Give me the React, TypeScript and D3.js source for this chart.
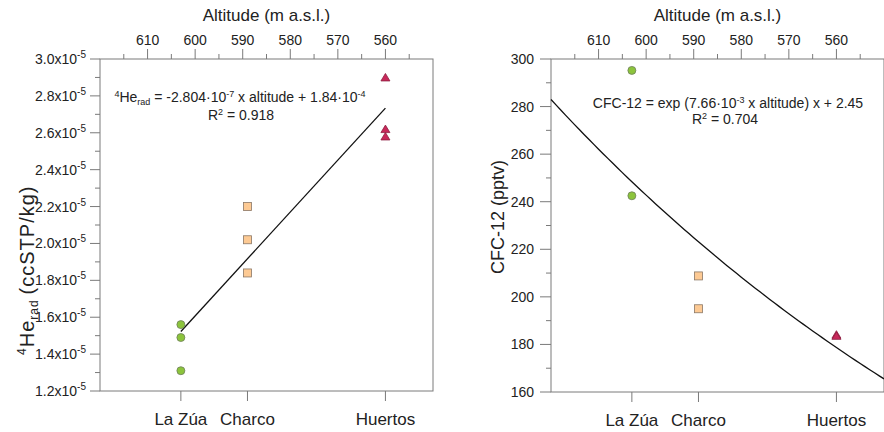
import { line, mean, range, scaleLinear, sum } from 'd3';

// sites along the x axis, at their altitude (m a.s.l.)
const sites = ['La Zúa', 'Charco', 'Huertos'];
const siteAltitudes = [603, 589, 560];

// 4He_rad (ccSTP/kg)
const heLaZua = [1.56e-5, 1.49e-5, 1.31e-5];
const heCharco = [2.2e-5, 2.02e-5, 1.84e-5];
const heHuertos = [2.9e-5, 2.62e-5, 2.58e-5];

// CFC-12 (pptv)
const cfcLaZua = [295.2, 242.5];
const cfcCharco = [208.8, 195.0];
const cfcHuertos = [184.1, 183.6];

// fitted curve CFC-12 = 2.45 * exp(7.66e-3 * altitude)
const cfcFitK = 7.66e-3;
const cfcFitA = 2.45;

const altitudeTicks = [610, 600, 590, 580, 570, 560];
const heTicks = [1.2, 1.4, 1.6, 1.8, 2.0, 2.2, 2.4, 2.6, 2.8, 3.0];
const cfcTicks = [160, 180, 200, 220, 240, 260, 280, 300];

const FONT = '"Liberation Sans", Arial, sans-serif';
const AXIS = '#7a7a7a';
const TEXT = '#222';

const GREEN = { fill: '#8cc43c', stroke: '#6f7f5a' };
const ORANGE = { fill: '#fdca94', stroke: '#8b7765' };
const RED = { fill: '#c8285a', stroke: '#8c1e40' };

interface Panel {
  left: number;
  right: number;
  top: number;
  bottom: number;
}

function Marker({ kind, x, y }: { kind: string; x: number; y: number }) {
  if (kind === 'circle') {
    return <circle cx={x} cy={y} r={4} fill={GREEN.fill} stroke={GREEN.stroke} strokeWidth={0.8} />;
  }
  if (kind === 'square') {
    return (
      <rect x={x - 4} y={y - 4} width={8} height={8} fill={ORANGE.fill} stroke={ORANGE.stroke} strokeWidth={0.8} />
    );
  }
  return (
    <path
      d={`M${x},${y - 4}L${x + 4.5},${y + 3.5}L${x - 4.5},${y + 3.5}Z`}
      fill={RED.fill}
      stroke={RED.stroke}
      strokeWidth={0.8}
    />
  );
}

function Frame({ p, xAlt }: { p: Panel; xAlt: (v: number) => number }) {
  const minor = range(615, 549, -5).filter((v) => v % 10 !== 0);
  return (
    <g>
      <rect
        x={p.left}
        y={p.top}
        width={p.right - p.left}
        height={p.bottom - p.top}
        fill="none"
        stroke={AXIS}
        strokeWidth={1}
      />
      {/* top altitude axis */}
      {altitudeTicks.map((t) => (
        <g key={t}>
          <line x1={xAlt(t)} x2={xAlt(t)} y1={p.top} y2={p.top - 10} stroke={AXIS} />
          <text x={xAlt(t)} y={p.top - 14} textAnchor="middle" fontSize={14} fill={TEXT}>
            {t}
          </text>
        </g>
      ))}
      {minor.map((t) => (
        <line key={t} x1={xAlt(t)} x2={xAlt(t)} y1={p.top} y2={p.top - 5} stroke={AXIS} />
      ))}
      <text x={(p.left + p.right) / 2} y={21} textAnchor="middle" fontSize={17} fill={TEXT}>
        Altitude (m a.s.l.)
      </text>
      {/* bottom site axis */}
      {sites.map((s, i) => (
        <g key={s}>
          <line
            x1={xAlt(siteAltitudes[i])}
            x2={xAlt(siteAltitudes[i])}
            y1={p.bottom}
            y2={p.bottom + 10}
            stroke={AXIS}
          />
          <text x={xAlt(siteAltitudes[i])} y={p.bottom + 34} textAnchor="middle" fontSize={17} fill={TEXT}>
            {s}
          </text>
        </g>
      ))}
    </g>
  );
}

export default function App() {
  const left: Panel = { left: 100, right: 433, top: 59, bottom: 391 };
  const right: Panel = { left: 551, right: 884, top: 59, bottom: 392 };

  const xL = scaleLinear().domain([620, 550]).range([left.left, left.right]);
  const yL = scaleLinear().domain([1.2e-5, 3.0e-5]).range([left.bottom, left.top]);
  const xR = scaleLinear().domain([620, 550]).range([right.left, right.right]);
  const yR = scaleLinear().domain([160, 300]).range([right.bottom, right.top]);

  const heGroups = [heLaZua, heCharco, heHuertos];
  const cfcGroups = [cfcLaZua, cfcCharco, cfcHuertos];
  const kinds = ['circle', 'square', 'triangle'];

  // least squares line for 4He
  const pts = heGroups.flatMap((g, i) => g.map((v) => ({ a: siteAltitudes[i], v })));
  const ma = mean(pts, (d) => d.a) as number;
  const mv = mean(pts, (d) => d.v) as number;
  const slope = sum(pts, (d) => (d.a - ma) * (d.v - mv)) / sum(pts, (d) => (d.a - ma) ** 2);
  const icpt = mv - slope * ma;
  const fitAlts = [siteAltitudes[0], siteAltitudes[2]];
  const heLine = line<number>()
    .x((a) => xL(a))
    .y((a) => yL(slope * a + icpt))(fitAlts);

  const curveAlts = range(620, 549.5, -1);
  const cfcLine = line<number>()
    .x((a) => xR(a))
    .y((a) => yR(cfcFitA * Math.exp(cfcFitK * a)))(curveAlts);

  const heMinor = range(1.3, 3.0, 0.2);
  const cfcMinor = range(170, 300, 20);

  return (
    <svg
      width={884}
      height={432}
      style={{ position: 'absolute', left: 0, top: 0, background: '#fff' }}
      fontFamily={FONT}
    >
      {/* ---------- left panel ---------- */}
      <Frame p={left} xAlt={xL} />
      {heTicks.map((t) => (
        <g key={t}>
          <line x1={left.left - 10} x2={left.left} y1={yL(t * 1e-5)} y2={yL(t * 1e-5)} stroke={AXIS} />
          <text x={left.left - 14} y={yL(t * 1e-5) + 5} textAnchor="end" fontSize={14} fill={TEXT}>
            {t.toFixed(1)}x10
            <tspan fontSize={10} dy={-6}>
              -5
            </tspan>
          </text>
        </g>
      ))}
      {heMinor.map((t) => (
        <line
          key={t}
          x1={left.left - 5}
          x2={left.left}
          y1={yL(t * 1e-5)}
          y2={yL(t * 1e-5)}
          stroke={AXIS}
        />
      ))}
      <text
        transform="translate(34,355) rotate(-90)"
        textAnchor="start"
        fontSize={20}
        letterSpacing={1}
        fill={TEXT}
      >
        <tspan fontSize={12} dy={-8}>
          4
        </tspan>
        <tspan dy={8}>He</tspan>
        <tspan fontSize={12} dy={4}>
          rad
        </tspan>
        <tspan dy={-4} dx={5}>
          (ccSTP/kg)
        </tspan>
      </text>
      <path d={heLine ?? ''} fill="none" stroke="#111" strokeWidth={1.3} />
      {heGroups.map((g, i) =>
        g.map((v, j) => <Marker key={`${i}-${j}`} kind={kinds[i]} x={xL(siteAltitudes[i])} y={yL(v)} />)
      )}
      <text x={240} y={102} textAnchor="middle" fontSize={14} fill={TEXT}>
        <tspan fontSize={9} dy={-5}>
          4
        </tspan>
        <tspan dy={5}>He</tspan>
        <tspan fontSize={9} dy={3}>
          rad
        </tspan>
        <tspan dy={-3}> = -2.804·10</tspan>
        <tspan fontSize={9} dy={-5}>
          -7
        </tspan>
        <tspan dy={5}> x altitude + 1.84·10</tspan>
        <tspan fontSize={9} dy={-5}>
          -4
        </tspan>
      </text>
      <text x={241} y={120} textAnchor="middle" fontSize={14} fill={TEXT}>
        R
        <tspan fontSize={9} dy={-5}>
          2
        </tspan>
        <tspan dy={5}> = 0.918</tspan>
      </text>

      {/* ---------- right panel ---------- */}
      <Frame p={right} xAlt={xR} />
      {cfcTicks.map((t) => (
        <g key={t}>
          <line x1={right.left - 11} x2={right.left} y1={yR(t)} y2={yR(t)} stroke={AXIS} />
          <text x={right.left - 17} y={yR(t) + 5} textAnchor="end" fontSize={14} fill={TEXT}>
            {t}
          </text>
        </g>
      ))}
      {cfcMinor.map((t) => (
        <line key={t} x1={right.left - 5} x2={right.left} y1={yR(t)} y2={yR(t)} stroke={AXIS} />
      ))}
      <text transform="translate(504,217) rotate(-90)" textAnchor="middle" fontSize={18} fill={TEXT}>
        CFC-12 (pptv)
      </text>
      <path d={cfcLine ?? ''} fill="none" stroke="#111" strokeWidth={1.3} />
      {cfcGroups.map((g, i) =>
        g.map((v, j) => <Marker key={`${i}-${j}`} kind={kinds[i]} x={xR(siteAltitudes[i])} y={yR(v)} />)
      )}
      <text x={728} y={108} textAnchor="middle" fontSize={14} fill={TEXT}>
        CFC-12 = exp (7.66·10
        <tspan fontSize={9} dy={-5}>
          -3
        </tspan>
        <tspan dy={5}> x altitude) x + 2.45</tspan>
      </text>
      <text x={725} y={124} textAnchor="middle" fontSize={14} fill={TEXT}>
        R
        <tspan fontSize={9} dy={-5}>
          2
        </tspan>
        <tspan dy={5}> = 0.704</tspan>
      </text>
    </svg>
  );
}
